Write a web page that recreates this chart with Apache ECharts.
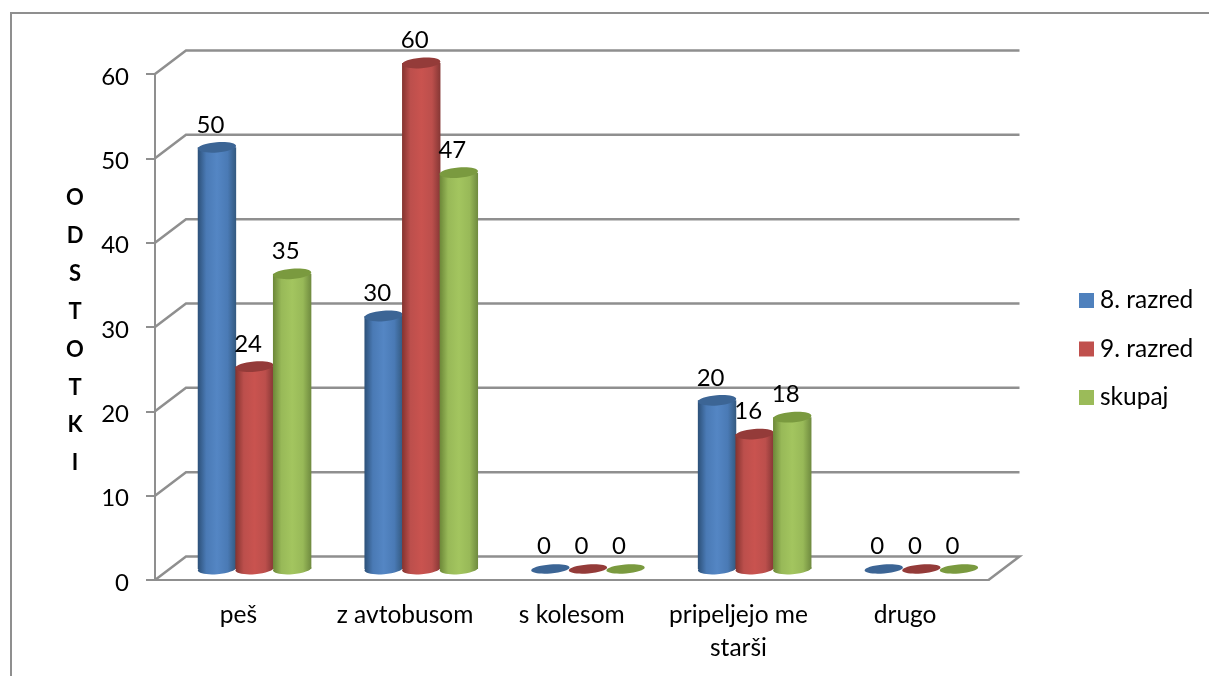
<!DOCTYPE html>
<html>
<head>
<meta charset="utf-8">
<style>
  html, body { margin: 0; padding: 0; background: #fff; }
  #chart { width: 1209px; height: 676px; }
</style>
<script src="https://cdn.jsdelivr.net/npm/echarts@6/dist/echarts.min.js"></script>
</head>
<body>
<div id="chart"></div>
<script>
const categories = ['peš', 'z avtobusom', 's kolesom', 'pripeljejo me\nstarši', 'drugo']
const seriesNames = ['8. razred', '9. razred', 'skupaj']
const razred8 = [50, 30, 0, 20, 0]
const razred9 = [24, 60, 0, 16, 0]
const skupaj = [35, 47, 0, 18, 0]
const yTicks = [0, 10, 20, 30, 40, 50, 60]
const axisTitle = 'O\nD\nS\nT\nO\nT\nK\nI'

const FONT = 'Lato'
const TEXT_SIZE = 24.5
const DIGIT_SIZE = 24
const GREY = '#8f8f8f'
const DEPTH_X = 31
const DEPTH_Y = 23.5
const BAR_W = 37.6

const palettes = [
  { edgeL: '#2c5078', mid1: '#4a7ab5', mid2: '#5486c4', edgeR: '#33597f', top: '#3c6595', legend: '#4f81bd' },
  { edgeL: '#84332f', mid1: '#bc4f4c', mid2: '#c9534f', edgeR: '#853735', top: '#943b39', legend: '#c0504d' },
  { edgeL: '#6c8738', mid1: '#98b958', mid2: '#a3c55f', edgeR: '#6f8a3f', top: '#7a9a3f', legend: '#9bbb59' }
]

function bodyFill(p) {
  return new echarts.graphic.LinearGradient(0, 0, 1, 0, [
    { offset: 0, color: p.edgeL },
    { offset: 0.22, color: p.mid1 },
    { offset: 0.5, color: p.mid2 },
    { offset: 0.78, color: p.mid1 },
    { offset: 1, color: p.edgeR }
  ])
}

// back wall lines, side lines and floor
function renderWall(params, api) {
  const cs = params.coordSys
  const v = api.value(0)
  const y = api.coord([0, v])[1]
  const x0 = cs.x
  const x1 = cs.x + cs.width
  const points = [[x0, y], [x0 + DEPTH_X, y - DEPTH_Y], [x1 + DEPTH_X, y - DEPTH_Y]]
  if (v === 0) points.push([x1, y])
  return {
    type: 'polyline',
    shape: { points: points },
    style: { fill: 'none', stroke: GREY, lineWidth: 2.5 }
  }
}

function makeCylinder(seriesIndex) {
  const p = palettes[seriesIndex]
  return function (params, api) {
    const cat = api.value(0)
    const val = api.value(1)
    const base = api.coord([cat, 0])
    const top = api.coord([cat, val])
    const cx = base[0] + (seriesIndex - 1) * BAR_W + 16.2
    const yBase = base[1] - 11
    const yTop = top[1] - 11
    const rx = BAR_W / 2 + 0.4
    const ry = 5.2
    const children = []
    if (val > 0) {
      children.push({
        type: 'ellipse',
        x: cx, y: yBase, rotation: 0.08,
        shape: { cx: 0, cy: 0, rx: rx, ry: ry },
        style: { fill: bodyFill(p) }
      })
      children.push({
        type: 'rect',
        shape: { x: cx - rx, y: yTop, width: rx * 2, height: yBase - yTop },
        style: { fill: bodyFill(p) }
      })
    }
    children.push({
      type: 'ellipse',
      x: cx, y: yTop, rotation: 0.08,
      shape: { cx: 0, cy: 0, rx: rx, ry: val > 0 ? ry : 4.4 },
      style: { fill: p.top }
    })
    children.push({
      type: 'text',
      z2: 100,
      style: {
        x: cx - 6.5, y: yTop - 22.5,
        text: String(val),
        fill: '#000', font: DIGIT_SIZE + 'px ' + FONT,
        align: 'center', verticalAlign: 'middle'
      }
    })
    return { type: 'group', children: children }
  }
}

const chart = echarts.init(document.getElementById('chart'))
const seriesData = [razred8, razred9, skupaj]

chart.setOption({
  backgroundColor: '#fff',
  animation: false,
  title: {
    text: axisTitle,
    left: 70,
    top: 174,
    textAlign: 'center',
    textStyle: { fontFamily: FONT, fontSize: 22, fontWeight: 'bold', color: '#000', lineHeight: 37.9 }
  },
  grid: { left: 155, top: 74, width: 833.5, height: 506 },
  legend: {
    orient: 'vertical',
    left: 1074,
    top: 283,
    itemWidth: 15,
    itemHeight: 15,
    itemGap: 23.5,
    icon: 'rect',
    textStyle: { fontFamily: FONT, fontSize: TEXT_SIZE, color: '#000', padding: [0, 0, 0, 1] },
    data: seriesNames.map((name, i) => ({ name: name, itemStyle: { color: palettes[i].legend } }))
  },
  xAxis: {
    type: 'category',
    data: categories,
    axisLine: { lineStyle: { color: GREY, width: 2 } },
    axisTick: { alignWithLabel: false, length: 8, lineStyle: { color: GREY, width: 2 } },
    axisLabel: { fontFamily: FONT, fontSize: TEXT_SIZE, color: '#000', margin: 19, lineHeight: 33, interval: 0 }
  },
  yAxis: {
    type: 'value',
    min: 0,
    max: 60,
    interval: 10,
    splitLine: { show: false },
    axisLine: { show: true, lineStyle: { color: GREY, width: 2 } },
    axisTick: { show: true, length: 9, lineStyle: { color: GREY, width: 2 } },
    axisLabel: {
      margin: 26,
      formatter: '{d|{value}}',
      rich: { d: { fontFamily: FONT, fontSize: DIGIT_SIZE, color: '#000', padding: [6, 0, 0, 0] } }
    }
  },
  graphic: [{
    type: 'polyline',
    silent: true,
    shape: { points: [[11, 676], [11, 13], [1209, 13]] },
    style: { fill: 'none', stroke: GREY, lineWidth: 2 }
  }],
  series: [
    {
      type: 'custom',
      name: 'wall',
      silent: true,
      z: 1,
      renderItem: renderWall,
      encode: { y: 0 },
      data: yTicks.map(v => [v])
    }
  ].concat(seriesNames.map((name, i) => ({
    type: 'custom',
    name: name,
    z: 2 + i,
    itemStyle: { color: palettes[i].legend },
    renderItem: makeCylinder(i),
    encode: { x: 0, y: 1 },
    data: seriesData[i].map((v, k) => [k, v])
  })))
})
</script>
</body>
</html>
